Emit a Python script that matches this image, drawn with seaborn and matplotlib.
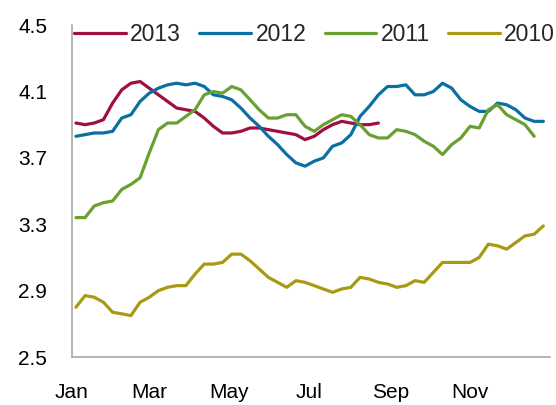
import pandas as pd
import matplotlib
matplotlib.use('Agg')
import matplotlib.pyplot as plt
import seaborn as sb

# weekly values
y2013 = [3.91, 3.90, 3.91, 3.93, 4.03, 4.11, 4.15, 4.16, 4.12, 4.08, 4.04, 4.00,
         3.99, 3.98, 3.94, 3.89, 3.85, 3.85, 3.86, 3.88, 3.88, 3.87, 3.86, 3.85,
         3.84, 3.81, 3.83, 3.87, 3.90, 3.92, 3.91, 3.90, 3.90, 3.91]
y2012 = [3.83, 3.84, 3.85, 3.85, 3.86, 3.94, 3.96, 4.04, 4.09, 4.12, 4.14, 4.15,
         4.14, 4.15, 4.13, 4.08, 4.07, 4.05, 4.00, 3.94, 3.89, 3.83, 3.78, 3.72,
         3.67, 3.65, 3.68, 3.70, 3.77, 3.79, 3.84, 3.95, 4.01, 4.08, 4.13, 4.13,
         4.14, 4.08, 4.08, 4.10, 4.15, 4.12, 4.05, 4.01, 3.98, 3.98, 4.03, 4.02,
         3.99, 3.94, 3.92, 3.92]
y2011 = [3.34, 3.34, 3.41, 3.43, 3.44, 3.51, 3.54, 3.58, 3.73, 3.87, 3.91, 3.91,
         3.95, 3.99, 4.08, 4.10, 4.09, 4.13, 4.11, 4.05, 3.99, 3.94, 3.94, 3.96,
         3.96, 3.89, 3.86, 3.90, 3.93, 3.96, 3.95, 3.90, 3.84, 3.82, 3.82, 3.87,
         3.86, 3.84, 3.80, 3.77, 3.72, 3.78, 3.82, 3.89, 3.88, 3.99, 4.02, 3.96,
         3.93, 3.90, 3.83]
y2010 = [2.80, 2.87, 2.86, 2.83, 2.77, 2.76, 2.75, 2.83, 2.86, 2.90, 2.92, 2.93,
         2.93, 3.00, 3.06, 3.06, 3.07, 3.12, 3.12, 3.08, 3.03, 2.98, 2.95, 2.92,
         2.96, 2.95, 2.93, 2.91, 2.89, 2.91, 2.92, 2.98, 2.97, 2.95, 2.94, 2.92,
         2.93, 2.96, 2.95, 3.01, 3.07, 3.07, 3.07, 3.07, 3.10, 3.18, 3.17, 3.15,
         3.19, 3.23, 3.24, 3.29]

years = ['2013', '2012', '2011', '2010']
series = [y2013, y2012, y2011, y2010]
colors = ['#A0103F', '#0A6FA2', '#6A9F32', '#A89A14']
yticks = [2.5, 2.9, 3.3, 3.7, 4.1, 4.5]
month_labels = ['Jan', 'Mar', 'May', 'Jul', 'Sep', 'Nov']

weeks = pd.date_range('2013-01-04', periods=52, freq='7D')
rows = []
for yr, vals in zip(years, series):
    for d, v in zip(weeks, vals):
        rows.append({'date': d, 'value': v, 'year': yr})
df = pd.DataFrame(rows)

sb.set_style('white')
plt.rcParams['font.family'] = ['Liberation Sans', 'DejaVu Sans']

fig = plt.figure(figsize=(5.56, 4.05), dpi=100)
ax = fig.add_axes([0.1295, 0.1185, 0.8595, 0.8195])

sb.lineplot(data=df, x='date', y='value', hue='year', hue_order=years,
            palette=colors, linewidth=2.3, ax=ax)

ax.set_ylim(2.5, 4.5)
ax.set_yticks(yticks)
ax.set_yticklabels([f'{t:.1f}' for t in yticks])
ax.set_xlim(pd.Timestamp('2013-01-01'), pd.Timestamp('2014-01-01'))
ax.set_xticks([pd.Timestamp(f'2013-{m:02d}-01') for m in (1, 3, 5, 7, 9, 11)])
ax.set_xticklabels(month_labels)
ax.set_xlabel('')
ax.set_ylabel('')

for s in ['top', 'right']:
    ax.spines[s].set_visible(False)
for s in ['left', 'bottom']:
    ax.spines[s].set_color('#A0A0A0')
    ax.spines[s].set_linewidth(1.1)
ax.tick_params(axis='both', direction='out', length=6, width=1.1,
               color='#A0A0A0', labelsize=15, labelcolor='black')
ax.tick_params(axis='x', pad=13)
ax.tick_params(axis='y', pad=12)

ax.legend(loc='center left', bbox_to_anchor=(0.133, 0.914),
          bbox_transform=fig.transFigure, ncol=4, frameon=False,
          fontsize=16.5, handlelength=2.25, handletextpad=0.2,
          columnspacing=0.8, borderaxespad=0, borderpad=0)
for line in ax.get_legend().get_lines():
    line.set_linewidth(2.3)

plt.savefig('out.png', dpi=100)
